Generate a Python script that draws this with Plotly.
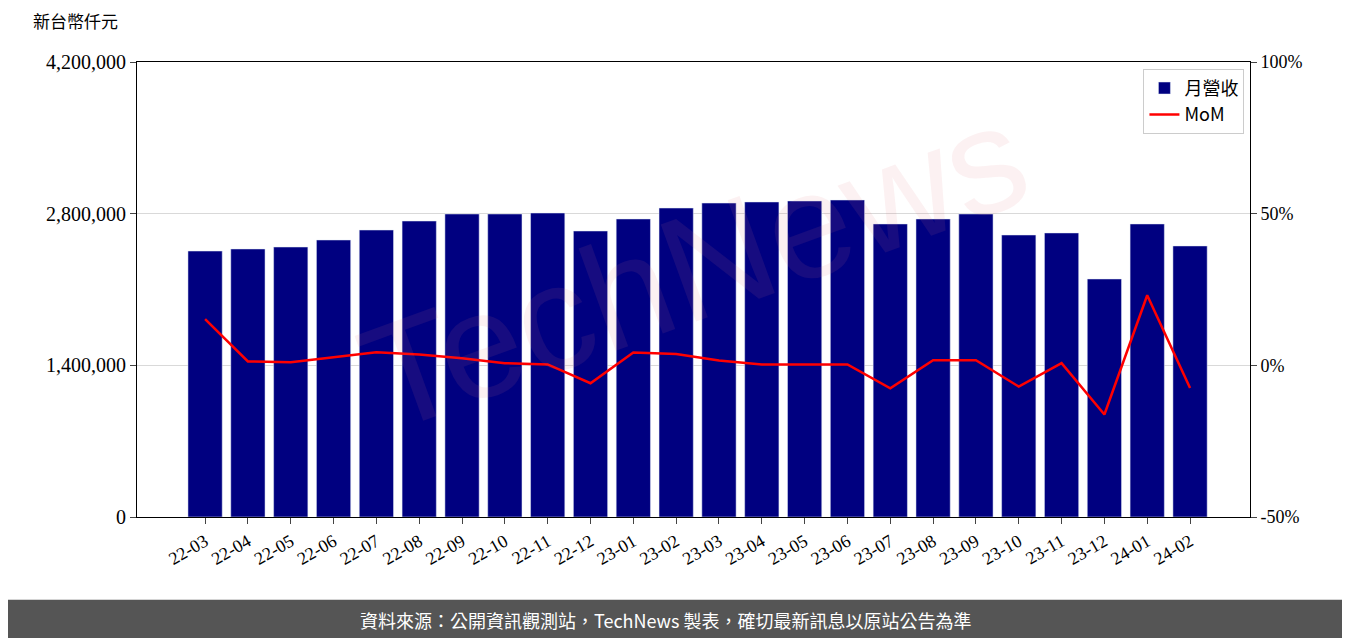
import plotly.graph_objects as go

months = ["22-03","22-04","22-05","22-06","22-07","22-08","22-09","22-10","22-11","22-12",
          "23-01","23-02","23-03","23-04","23-05","23-06","23-07","23-08","23-09","23-10",
          "23-11","23-12","24-01","24-02"]
revenue = [2455000,2474000,2492000,2557000,2649000,2732000,2797000,2797000,2806000,2640000,
           2751000,2852000,2898000,2908000,2917000,2926000,2705000,2751000,2797000,2603000,
           2622000,2197000,2705000,2502000]
mom = [15.2,1.3,1.0,2.6,4.3,3.6,2.3,0.7,0.3,-5.9,4.2,3.7,1.6,0.3,0.3,0.3,-7.6,1.7,1.7,-7.0,
       0.7,-16.2,23.1,-7.5]

x = list(range(len(months)))
serif = "Liberation Serif"
cjk = "Noto Sans CJK TC"

fig = go.Figure()
fig.add_bar(x=x, y=revenue, name="月營收", marker_color="#000080", width=0.8)
fig.add_scatter(x=x, y=mom, name="MoM", yaxis="y2", mode="lines",
                line=dict(color="#ff0000", width=2.5))

fig.update_layout(
    width=1334, height=630, paper_bgcolor="white", plot_bgcolor="white",
    margin=dict(l=129, r=92, t=54, b=121),
    font=dict(family=serif, size=18, color="black"),
    showlegend=True,
    legend=dict(x=0.995, y=0.985, xanchor="right", yanchor="top",
                bordercolor="#cccccc", borderwidth=1, bgcolor="rgba(255,255,255,0.8)",
                font=dict(family=cjk, size=18)),
    xaxis=dict(range=[-1.59, 24.4], tickvals=x, ticktext=months, tickangle=-30,
               ticks="outside", ticklen=6, showgrid=False, showline=True, linecolor="black",
               mirror=True, zeroline=False, tickfont=dict(family=serif, size=18)),
    yaxis=dict(range=[0, 4200000], tickvals=[0,1400000,2800000,4200000],
               ticktext=["0","1,400,000","2,800,000","4,200,000"], ticks="outside", ticklen=6,
               showgrid=True, gridcolor="#d9d9d9", showline=True, linecolor="black",
               mirror=True, zeroline=False, tickfont=dict(family=serif, size=20)),
    yaxis2=dict(range=[-50, 100], overlaying="y", side="right", tickvals=[-50,0,50,100],
                ticktext=["-50%","0%","50%","100%"], ticks="outside", ticklen=6,
                showgrid=False, zeroline=False, tickfont=dict(family=serif, size=18)),
    shapes=[dict(type="rect", xref="paper", yref="paper", x0=-0.2, x1=1.2, y0=-0.5, y1=-0.182,
                 fillcolor="#555555", line_width=0, layer="below")],
    annotations=[
        dict(text="新台幣仟元", xref="paper", yref="paper", x=-0.095, y=1.06, xanchor="left",
             yanchor="bottom", showarrow=False, font=dict(family=cjk, size=17)),
        dict(text="資料來源：公開資訊觀測站，TechNews 製表，確切最新訊息以原站公告為準",
             xref="paper", yref="paper", x=0.475, y=-0.226, xanchor="center", yanchor="middle",
             showarrow=False, font=dict(family=cjk, size=18, color="white")),
        dict(text="TechNews", xref="paper", yref="paper", x=0.5, y=0.55, showarrow=False,
             textangle=-20, font=dict(family="Liberation Sans", size=150, color="rgba(230,120,130,0.10)")),
    ],
)
fig.write_html("out.html")
